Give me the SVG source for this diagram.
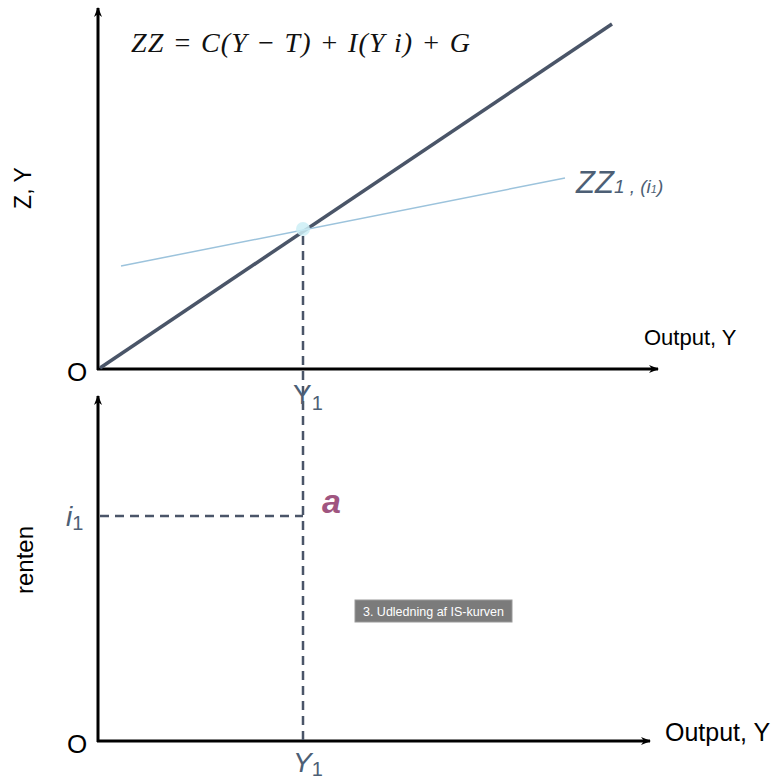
<svg xmlns="http://www.w3.org/2000/svg" width="772" height="780" viewBox="0 0 772 780">
<style>
.axis{stroke:#000;stroke-width:3;fill:none}
.dash{stroke:#4a5568;stroke-width:2.5;stroke-dasharray:9,6;fill:none}
.lbl{font-family:"Liberation Sans",Arial,sans-serif;fill:#000}
.sub{font-family:"Liberation Sans",Arial,sans-serif;fill:#4d5f75}
</style>
<defs>
<marker id="ah" markerWidth="10" markerHeight="8" refX="9" refY="4" orient="auto" markerUnits="userSpaceOnUse">
<path d="M0,0 L10,4 L0,8 L3,4 z" fill="#000"/>
</marker>
</defs>
<rect width="772" height="780" fill="#fff"/>
<g id="connectors">
<line class="axis" x1="98" y1="370" x2="98" y2="8" marker-end="url(#ah)"/>
<line class="axis" x1="97" y1="369" x2="658" y2="369" marker-end="url(#ah)"/>
<line class="axis" x1="98" y1="742" x2="98" y2="396" marker-end="url(#ah)"/>
<line class="axis" x1="97" y1="741" x2="650" y2="741" marker-end="url(#ah)"/>
<line x1="100" y1="368" x2="612" y2="24" stroke="#4a5568" stroke-width="3.5"/>
<line x1="121" y1="266" x2="565" y2="178" stroke="#9cc3dc" stroke-width="1.5"/>
<line class="dash" x1="303" y1="236" x2="303" y2="741"/>
<line class="dash" x1="100" y1="516" x2="303" y2="516"/>
</g>
<g id="point"><circle cx="303" cy="229" r="7" fill="#cdeff6" opacity="0.85"/></g>
<g id="equation"><text x="131" y="52" font-family="'Liberation Serif','DejaVu Serif',serif" font-style="italic" font-size="28" fill="#111" textLength="339" lengthAdjust="spacing">ZZ = C(Y − T) + I(Y i) + G</text></g>
<g id="zz1"><text x="576" y="193" class="sub" font-style="italic" font-size="31">ZZ<tspan font-size="19">1 , (i</tspan><tspan font-size="11">1</tspan><tspan font-size="19">)</tspan></text></g>
<g id="labels">
<text class="lbl" x="67" y="381" font-size="26">O</text>
<text class="lbl" x="67" y="753" font-size="26">O</text>
<text class="lbl" x="644" y="345" font-size="22">Output, Y</text>
<text class="lbl" x="665" y="741" font-size="25">Output, Y</text>
<text class="lbl" font-size="23" transform="translate(31,188) rotate(-90)" text-anchor="middle">Z, Y</text>
<text class="lbl" font-size="24" transform="translate(33,560) rotate(-90)" text-anchor="middle">renten</text>
<text class="sub" x="293" y="404" font-size="28">Y<tspan font-size="20" dy="6">1</tspan></text>
<text class="sub" x="293" y="772" font-size="28" font-style="italic">Y<tspan font-size="20" font-style="normal" dy="4">1</tspan></text>
<text class="sub" x="66" y="526" font-size="28" font-style="italic">i<tspan font-size="20" font-style="normal" dy="4">1</tspan></text>
<text x="322" y="513" font-family="'Liberation Sans',Arial,sans-serif" font-weight="bold" font-style="italic" font-size="34" fill="#a05580">a</text>
</g>
<g id="tooltip">
<rect x="355" y="600" width="157" height="22" fill="#7b7b7b" stroke="#9a9a9a" stroke-width="1"/>
<text x="433.5" y="616" text-anchor="middle" font-family="'Liberation Sans',Arial,sans-serif" font-size="12.5" fill="#fff">3. Udledning af IS-kurven</text>
</g>
</svg>
